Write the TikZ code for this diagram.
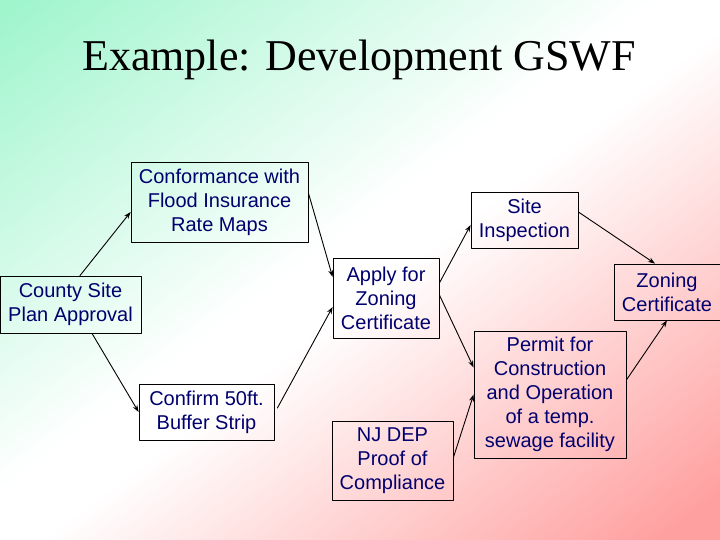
\documentclass[tikz,border=0pt]{standalone}
\usepackage{fontspec}
\usetikzlibrary{arrows.meta}
\setmainfont{Liberation Serif}
\newfontfamily\boxfont{Liberation Sans}
\definecolor{slidegreen}{RGB}{160,245,205}
\definecolor{slidepink}{RGB}{255,160,160}
\definecolor{boxtext}{RGB}{0,0,110}
\pgfdeclareverticalshading{slidebg}{100bp}{color(0bp)=(slidepink); color(18bp)=(slidepink); color(48bp)=(white); color(53bp)=(white); color(84bp)=(slidegreen); color(100bp)=(slidegreen)}
\begin{document}
\begin{tikzpicture}[x=1pt,y=1pt,line cap=round,line join=round,>={Stealth[length=7pt,width=5pt]},
		box/.style={draw=black,line width=0.8pt,inner sep=0pt,align=center,text=boxtext,
			font=\boxfont\fontsize{20}{24}\selectfont},
		arr/.style={->,line width=0.9pt,color=black}]
			\useasboundingbox (0,0) rectangle (720,540);
			\shade[shading=slidebg,shading angle=36.87] (0,0) rectangle (720,540);
			\node (title) at (359,480) {\fontsize{44}{50}\selectfont Example: Development GSWF};
			\node[box,minimum width=177,minimum height=80] (conf) at (219.5,338) {Conformance with\\Flood Insurance\\Rate Maps};
			\node[box,minimum width=141,minimum height=57] (county) at (70.5,235.5) {County Site\\Plan Approval};
			\node[box,minimum width=135,minimum height=56] (confirm) at (206.5,128) {Confirm 50ft.\\Buffer Strip};
			\node[box,minimum width=106,minimum height=80] (apply) at (386,242) {Apply for\\Zoning\\Certificate};
			\node[box,minimum width=107,minimum height=56] (site) at (524.5,320) {Site\\Inspection};
			\node[box,minimum width=121,minimum height=79] (njdep) at (392.5,79.5) {NJ DEP\\Proof of\\Compliance};
			\node[box,minimum width=152,minimum height=127] (permit) at (550,145.5) {Permit for\\Construction\\and Operation\\of a temp.\\sewage facility};
			\node[box,minimum width=106,minimum height=56] (zoning) at (667,248) {Zoning\\Certificate};
			\draw[arr] ([xshift=9.5pt]county.north) -- ([yshift=-10pt]conf.west);
			\draw[arr] ([yshift=9pt]conf.east) -- ([yshift=21pt]apply.west);
			\draw[arr] ([xshift=21.5pt]county.south) -- (confirm.west);
			\draw[arr] ([xshift=3pt,yshift=4pt]confirm.east) -- ([yshift=-9pt]apply.west);
			\draw[arr] ([yshift=15pt]apply.east) -- ([yshift=-5pt]site.west);
			\draw[arr] ([yshift=3pt]apply.east) -- ([yshift=27pt]permit.west);
			\draw[arr] ([yshift=3pt]njdep.east) -- (permit.west);
			\draw[arr] ([yshift=8pt]site.east) -- ([xshift=-12pt]zoning.north);
			\draw[arr] ([yshift=14.5pt]permit.east) -- (zoning.south);
\end{tikzpicture}
\end{document}
